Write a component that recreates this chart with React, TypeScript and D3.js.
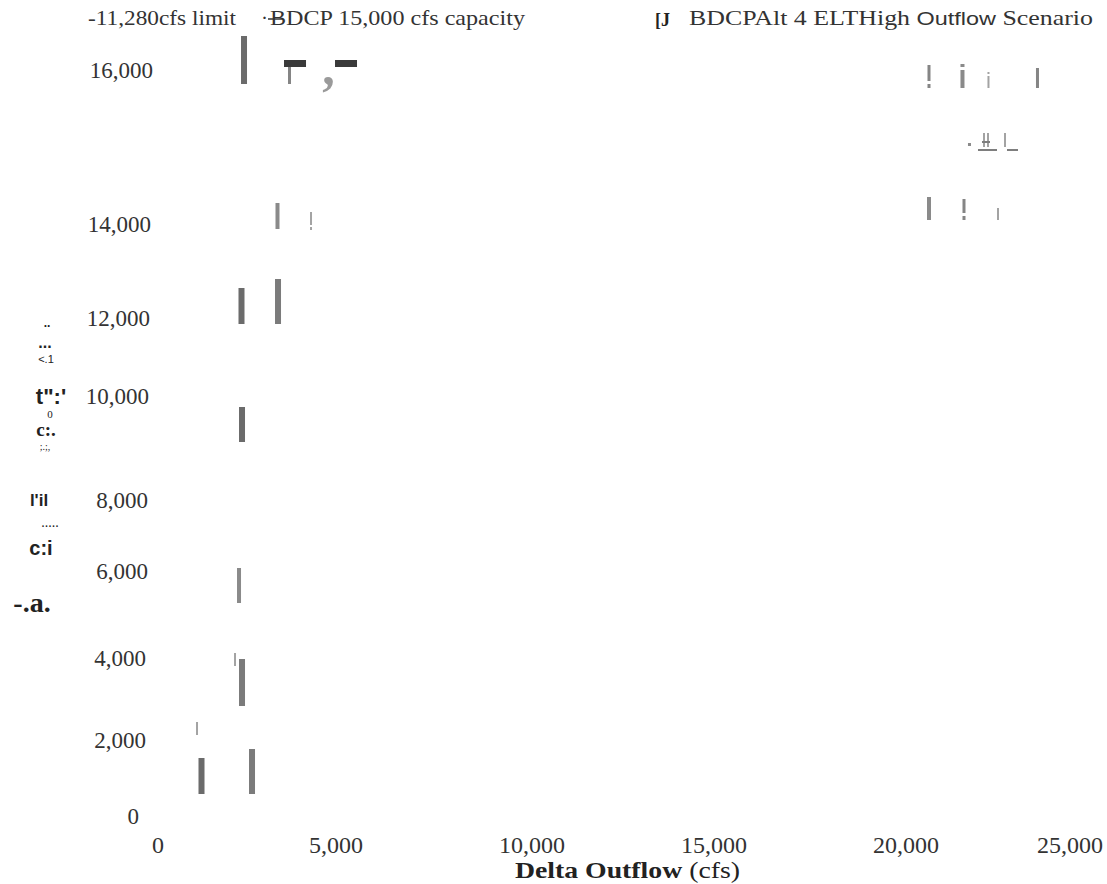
import React from "react";
import * as d3 from "d3";

// ---------- data ----------
const xTicks = [0, 5000, 10000, 15000, 20000, 25000];
const yTicks = [0, 2000, 4000, 6000, 8000, 10000, 12000, 14000, 16000];

const legendLeftA = "-11,280cfs limit";
const legendLeftDot = "·";
const legendLeftB = "BDCP 15,000 cfs capacity";
const legendRightMarker = "[J";
const legendRightParts = ["BDCPAlt 4 ELTHigh ", "Outflow", " Scenario"];
const xTitleBold = "Delta Outflow";
const xTitleRest = " (cfs)";
const yTitleFragments = ["..", "...", "<.1", "t\":'", "0", "c:.", ";.;,", "l'il", ".....", "c:i", "-.a."];

// vertical marks: outflow (x), exports range lo..hi, kind
const verticalMarks = [
  { x: 2309, lo: 14720, hi: 15680, kind: "dark" },
  { x: 3537, lo: 14720, hi: 15180, kind: "thin" },
  { x: 3213, lo: 11820, hi: 12340, kind: "mid" },
  { x: 2241, lo: 9920, hi: 10640, kind: "dark" },
  { x: 3227, lo: 9920, hi: 10820, kind: "wide" },
  { x: 2255, lo: 7560, hi: 8260, kind: "dark" },
  { x: 2174, lo: 4340, hi: 5040, kind: "mid" },
  { x: 2066, lo: 3080, hi: 3340, kind: "hair" },
  { x: 2255, lo: 2280, hi: 3220, kind: "wide" },
  { x: 1040, lo: 1700, hi: 1960, kind: "hair" },
  { x: 1161, lo: 520, hi: 1240, kind: "dark" },
  { x: 2525, lo: 520, hi: 1420, kind: "wide" },
  { x: 23733, lo: 14640, hi: 15040, kind: "thin" },
  { x: 20804, lo: 12000, hi: 12460, kind: "mid" },
  { x: 22667, lo: 12000, hi: 12240, kind: "hair" },
  { x: 22289, lo: 13460, hi: 13740, kind: "hair" },
  { x: 22397, lo: 13460, hi: 13740, kind: "hair" },
  { x: 22856, lo: 13460, hi: 13740, kind: "hair" },
  // glyph-like marks (stem + dot)
  { x: 20804, lo: 14780, hi: 15100, kind: "thin" },
  { x: 20804, lo: 14640, hi: 14720, kind: "thin" },
  { x: 21708, lo: 14640, hi: 15000, kind: "mid" },
  { x: 21708, lo: 15060, hi: 15120, kind: "mid" },
  { x: 22410, lo: 14640, hi: 14880, kind: "hair" },
  { x: 22410, lo: 14920, hi: 14960, kind: "hair" },
  { x: 4118, lo: 11900, hi: 12160, kind: "hair" },
  { x: 4118, lo: 11800, hi: 11860, kind: "hair" },
  { x: 21749, lo: 12140, hi: 12420, kind: "thin" },
  { x: 21749, lo: 12000, hi: 12080, kind: "thin" },
];

// horizontal marks: exports level (y), outflow range x0..x1, kind
const horizontalMarks = [
  { y: 15130, x0: 3389, x1: 3983, kind: "bar" },
  { y: 15130, x0: 4766, x1: 5360, kind: "bar" },
  { y: 13400, x0: 22127, x1: 22640, kind: "line" },
  { y: 13400, x0: 22910, x1: 23207, kind: "line" },
  { y: 13560, x0: 22235, x1: 22451, kind: "line" },
];

const dotMarks = [{ x: 21897, y: 13510 }];
const commaMarks = [{ x: 4590, y: 14720 }];

// ---------- styles ----------
const vStyle: Record<string, { w: number; c: string }> = {
  dark: { w: 6, c: "#6b6b6b" },
  wide: { w: 6, c: "#7b7b7b" },
  mid: { w: 4, c: "#8a8a8a" },
  thin: { w: 3, c: "#858585" },
  hair: { w: 2, c: "#a3a3a3" },
};
const hStyle: Record<string, { h: number; c: string }> = {
  bar: { h: 7, c: "#3a3a3a" },
  line: { h: 2, c: "#7e7e7e" },
};

const W = 1107;
const H = 884;
const serif = "'Liberation Serif', 'Times New Roman', serif";
const sans = "'Liberation Sans', Arial, sans-serif";

export default function App() {
  const xScale = d3.scaleLinear().domain([0, 25000]).range([158.5, 1084.4]);
  const yScale = d3.scaleLinear().domain([0, 16000]).range([820, 20]);
  // tick labels in the reference are unevenly spaced
  const xLabelScale = d3.scaleLinear().domain(xTicks).range([158, 336, 532, 714, 906, 1070]);
  const yLabelScale = d3.scaleLinear().domain(yTicks).range([816, 740, 658, 571, 500, 396, 318, 224, 70]);
  const yLabelRight = [139, 146, 146, 148, 148, 149, 150, 151, 153];
  const fmt = d3.format(",");

  const yTitleLayout = [
    { x: 47, y: 323, s: 12, w: 700, f: sans },
    { x: 45, y: 342, s: 16, w: 700, f: sans },
    { x: 46, y: 359, s: 11, w: 400, f: sans },
    { x: 51, y: 396, s: 22, w: 700, f: sans },
    { x: 50, y: 414, s: 11, w: 400, f: serif },
    { x: 46, y: 429, s: 19, w: 700, f: serif },
    { x: 45, y: 446, s: 10, w: 400, f: serif },
    { x: 39, y: 500, s: 17, w: 700, f: sans },
    { x: 50, y: 522, s: 14, w: 400, f: serif },
    { x: 41, y: 548, s: 20, w: 700, f: sans },
    { x: 32, y: 602, s: 28, w: 700, f: serif },
  ];

  return (
    <svg width={W} height={H} style={{ position: "absolute", left: 0, top: 0, background: "#fff" }}>
      {/* legend */}
      <text x={88} y={18} fontFamily={serif} fontSize={21} fill="#333" dominantBaseline="central"
        textLength={148} lengthAdjust="spacingAndGlyphs">{legendLeftA}</text>
      <text x={261} y={18} fontFamily={serif} fontSize={21} fill="#333" dominantBaseline="central">{legendLeftDot}</text>
      <text x={270} y={18} fontFamily={serif} fontSize={21} fill="#333" dominantBaseline="central"
        textLength={255} lengthAdjust="spacingAndGlyphs">{legendLeftB}</text>
      <line x1={268} x2={283} y1={19} y2={19} stroke="#333" strokeWidth={1.5} />
      <text x={655} y={20} fontFamily={serif} fontSize={18} fontWeight={700} fill="#222" dominantBaseline="central">{legendRightMarker}</text>
      <text x={689} y={18} fontSize={21} fill="#333" dominantBaseline="central" textLength={404} lengthAdjust="spacingAndGlyphs">
        <tspan fontFamily={serif}>{legendRightParts[0]}</tspan>
        <tspan fontFamily={sans} fontSize={19}>{legendRightParts[1]}</tspan>
        <tspan fontFamily={serif}>{legendRightParts[2]}</tspan>
      </text>

      {/* y tick labels */}
      {yTicks.map((t, i) => (
        <text key={"y" + t} x={yLabelRight[i]} y={yLabelScale(t)} textAnchor="end" dominantBaseline="central"
          fontFamily={serif} fontSize={23} fill="#333">{fmt(t)}</text>
      ))}

      {/* x tick labels */}
      {xTicks.map((t) => (
        <text key={"x" + t} x={xLabelScale(t)} y={845} textAnchor="middle" dominantBaseline="central"
          fontFamily={serif} fontSize={24} fill="#333">{fmt(t)}</text>
      ))}

      {/* x axis title */}
      <text x={515} y={870} dominantBaseline="central" fontFamily={serif} fontSize={24} fill="#222"
        textLength={225} lengthAdjust="spacingAndGlyphs">
        <tspan fontWeight={700}>{xTitleBold}</tspan>
        <tspan>{xTitleRest}</tspan>
      </text>

      {/* garbled y axis title fragments */}
      {yTitleFragments.map((t, i) => (
        <text key={"yt" + i} x={yTitleLayout[i].x} y={yTitleLayout[i].y} textAnchor="middle" dominantBaseline="central"
          fontFamily={yTitleLayout[i].f} fontSize={yTitleLayout[i].s} fontWeight={yTitleLayout[i].w} fill="#222">{t}</text>
      ))}

      {/* vertical marks */}
      {verticalMarks.map((m, i) => {
        const st = vStyle[m.kind];
        return (
          <rect key={"v" + i} x={xScale(m.x) - st.w / 2} y={yScale(m.hi)} width={st.w}
            height={yScale(m.lo) - yScale(m.hi)} fill={st.c} />
        );
      })}

      {/* horizontal marks */}
      {horizontalMarks.map((m, i) => {
        const st = hStyle[m.kind];
        return (
          <rect key={"h" + i} x={xScale(m.x0)} y={yScale(m.y) - st.h / 2} width={xScale(m.x1) - xScale(m.x0)}
            height={st.h} fill={st.c} />
        );
      })}

      {dotMarks.map((m, i) => (
        <rect key={"d" + i} x={xScale(m.x) - 1.5} y={yScale(m.y) - 1.5} width={3} height={3} fill="#8a8a8a" />
      ))}

      {commaMarks.map((m, i) => (
        <text key={"c" + i} x={xScale(m.x)} y={yScale(m.y)} textAnchor="middle"
          fontFamily={serif} fontWeight={700} fontSize={50} fill="#9a9a9a">,</text>
      ))}
    </svg>
  );
}
